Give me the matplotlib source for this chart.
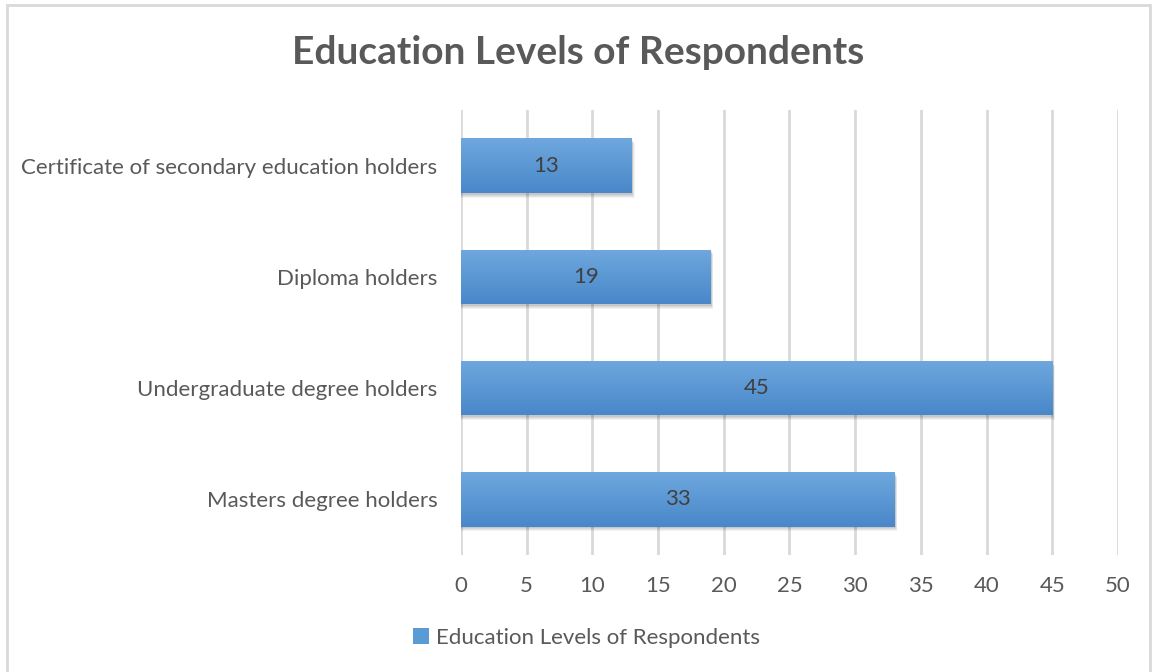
import matplotlib.pyplot as plt
import matplotlib.patches as mpatches
import numpy as np

categories = ['Masters degree holders', 'Undergraduate degree holders',
              'Diploma holders', 'Certificate of secondary education holders']
counts = [33, 45, 19, 13]
series_name = 'Education Levels of Respondents'
x_ticks = [0, 5, 10, 15, 20, 25, 30, 35, 40, 45, 50]

plt.rcParams['font.family'] = ['Lato', 'DejaVu Sans']
text_col = '#595959'

fig = plt.figure(figsize=(11.57, 6.72), dpi=100)
ax = fig.add_axes([0.3984, 0.1741, 0.5679, 0.6622])

# outer chart border
fig.patches.append(mpatches.Rectangle((0.006, -0.01), 0.988, 1.003, transform=fig.transFigure,
                                      fill=False, edgecolor='#d9d9d9', linewidth=2))

bar_h = 0.49
ypos = np.arange(len(categories))

# vertical gradient used to fill each bar (light on top, darker at bottom)
grad = np.linspace(0, 1, 256).reshape(-1, 1)
top = np.array([0.435, 0.659, 0.871])
bot = np.array([0.282, 0.529, 0.788])
grad_img = top + (bot - top) * grad
grad_img = grad_img.reshape(256, 1, 3)

for y, v in zip(ypos, counts):
    # soft drop shadow
    for i, a in enumerate([0.05, 0.05, 0.06, 0.07]):
        off = 0.07 - i * 0.015
        sh = mpatches.Rectangle((0, y - bar_h / 2 - off * 0.6), v + off * 3, bar_h,
                                facecolor='black', alpha=a, edgecolor='none', zorder=2)
        ax.add_patch(sh)
    r = mpatches.Rectangle((0, y - bar_h / 2), v, bar_h, facecolor='none',
                           edgecolor='none', zorder=3)
    ax.add_patch(r)
    im = ax.imshow(grad_img, extent=(0, v, y - bar_h / 2, y + bar_h / 2),
                   aspect='auto', origin='upper', zorder=3, interpolation='bilinear')
    im.set_clip_path(r)
    ax.text(v / 2, y, str(v), ha='center', va='center', fontsize=16,
            color='#404040', zorder=4)

ax.set_xlim(0, 50)
ax.set_ylim(-0.5, 3.5)
ax.set_xticks(x_ticks)
ax.set_yticks(ypos)
ax.set_yticklabels(categories)
ax.xaxis.grid(True, color='#d9d9d9', linewidth=2, zorder=0)
ax.set_axisbelow(True)
for s in ax.spines.values():
    s.set_visible(False)
ax.tick_params(axis='both', length=0, colors=text_col, labelsize=16)
ax.tick_params(axis='x', pad=15)
ax.tick_params(axis='y', pad=17)

fig.text(0.5, 0.922, series_name, ha='center', va='center', fontsize=28,
         fontweight='bold', color=text_col)

handle = mpatches.Patch(facecolor='#5b9bd5', edgecolor='none')
fig.legend([handle], [series_name], loc='center', bbox_to_anchor=(0.507, 0.051),
           frameon=False, fontsize=16, labelcolor=text_col, handlelength=0.7,
           handleheight=0.7, handletextpad=0.3)

fig.savefig('out.png', dpi=100)
